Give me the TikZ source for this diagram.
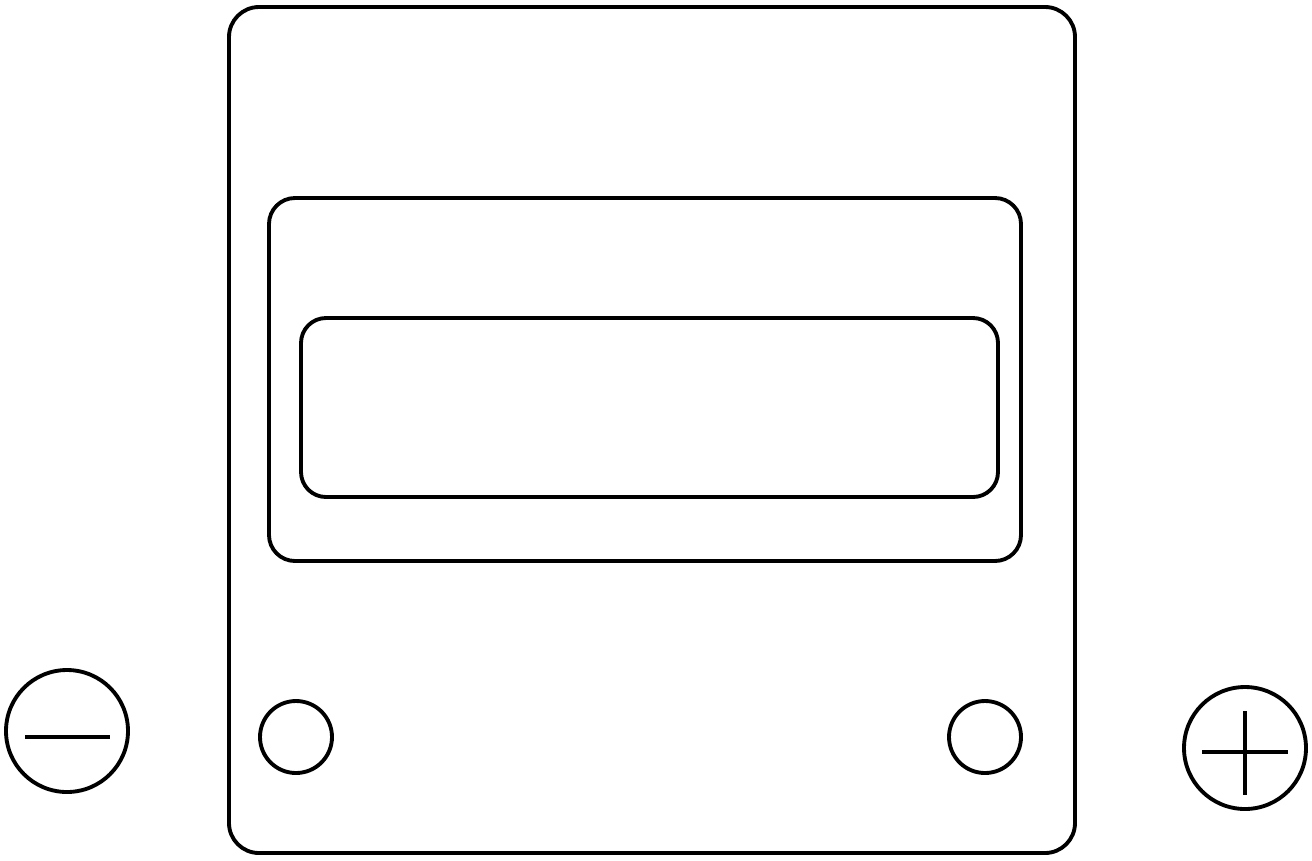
\documentclass[tikz,border=0pt]{standalone}
\usepackage{tikz}
\usetikzlibrary{calc}

\begin{document}
\begin{tikzpicture}[x=0.02cm,y=-0.02cm,line width=2.2pt]
    \useasboundingbox (0,0) rectangle (1312,860);

    \coordinate (M) at (67,731);
    \coordinate (P) at (1245,748);

    \draw [rounded corners=0.6cm] (229,7) rectangle (1075,853);
    \draw [rounded corners=0.52cm] (269,198) rectangle (1021,561);
    \draw [rounded corners=0.5cm] (301,318) rectangle (998,497);

    \draw (296,737) circle (36);
    \draw (985,737) circle (36);

    \draw (M) circle (61);
    \draw ($(M)+(-42,6)$) -- ($(M)+(43,6)$);

    \draw (P) circle (61);
    \draw ($(P)+(-43,4)$) -- ($(P)+(43,4)$);
    \draw ($(P)+(0,-37)$) -- ($(P)+(0,47)$);
\end{tikzpicture}
\end{document}
